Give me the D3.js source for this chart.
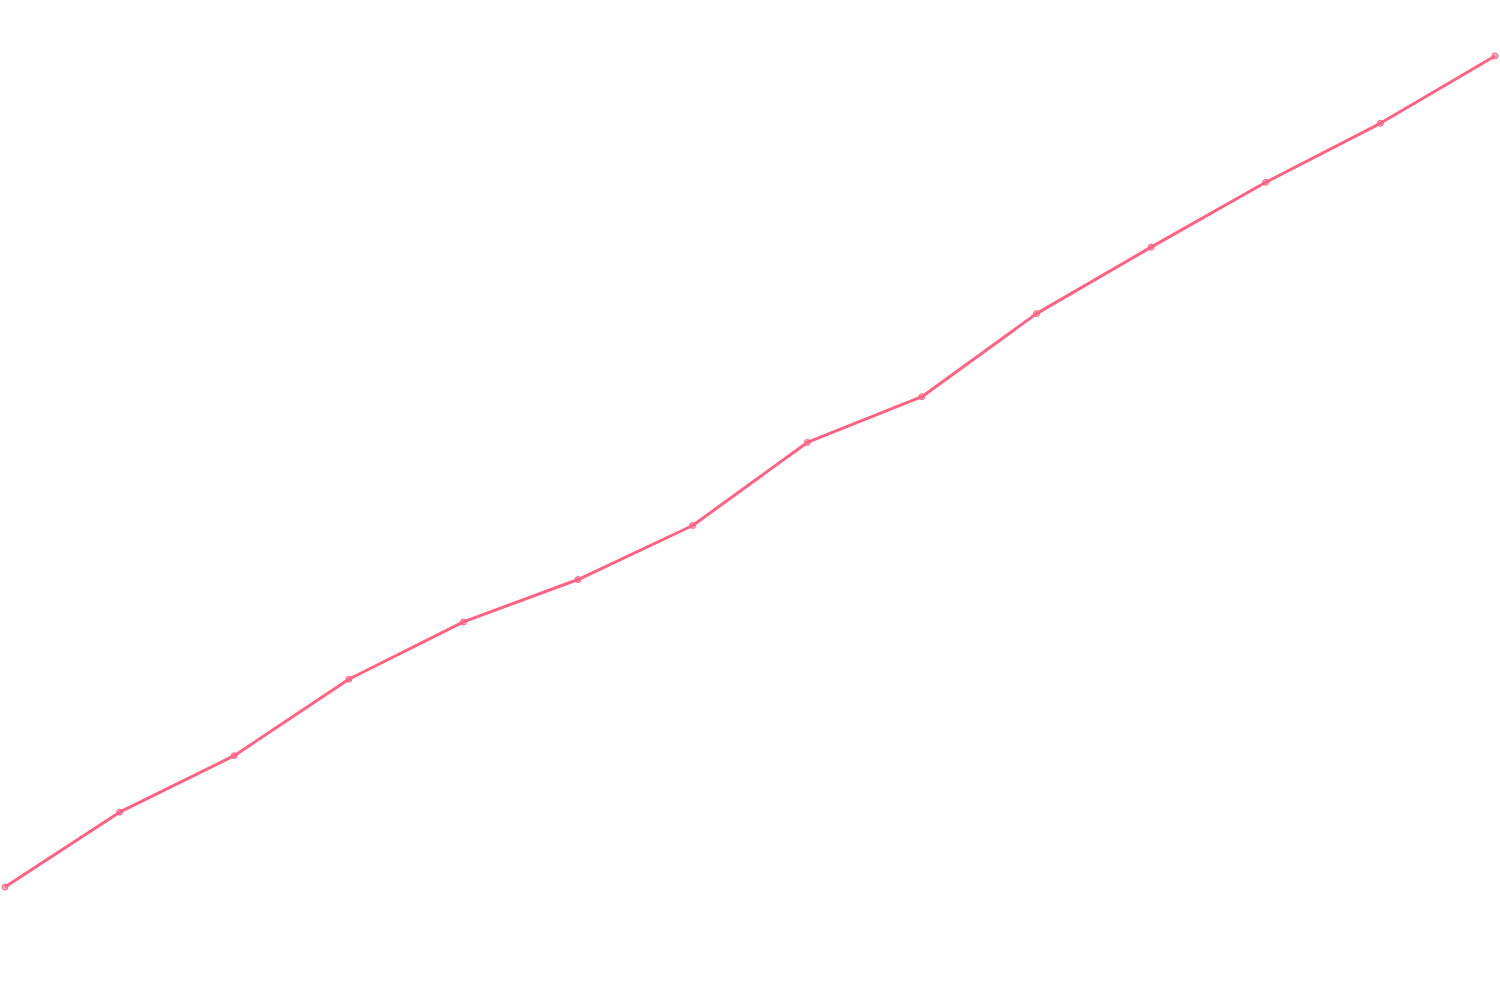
<!DOCTYPE html>
<html>
<head>
<meta charset="utf-8">
<script src="https://cdn.jsdelivr.net/npm/d3@7"></script>
<style>
html,body{margin:0;padding:0;background:#fff;}
svg{display:block;}
</style>
</head>
<body>
<svg id="chart" width="1500" height="1000"></svg>
<script>
const categories = ["1","2","3","4","5","6","7","8","9","10","11","12","13","14"];
const values = [0, 9.0, 15.8, 25.0, 31.9, 37.0, 43.5, 53.5, 59.0, 69.0, 77.0, 84.8, 91.9, 100];

const svg = d3.select("#chart");
const x = d3.scalePoint().domain(categories).range([5, 1495]);
const y = d3.scaleLinear().domain([0, 100]).range([887, 56]);

const color = "rgb(255, 99, 132)";
const data = categories.map((c, i) => ({c, v: values[i]}));

svg.append("path")
  .datum(data)
  .attr("fill", "none")
  .attr("stroke", color)
  .attr("stroke-width", 3)
  .attr("stroke-linejoin", "round")
  .attr("d", d3.line().x(d => x(d.c)).y(d => y(d.v)));

svg.selectAll("circle.pt")
  .data(data)
  .join("circle")
  .attr("class", "pt")
  .attr("cx", d => x(d.c))
  .attr("cy", d => y(d.v))
  .attr("r", 3)
  .attr("fill", "rgba(255, 99, 132, 0.5)")
  .attr("stroke", color)
  .attr("stroke-width", 1);
</script>
</body>
</html>
